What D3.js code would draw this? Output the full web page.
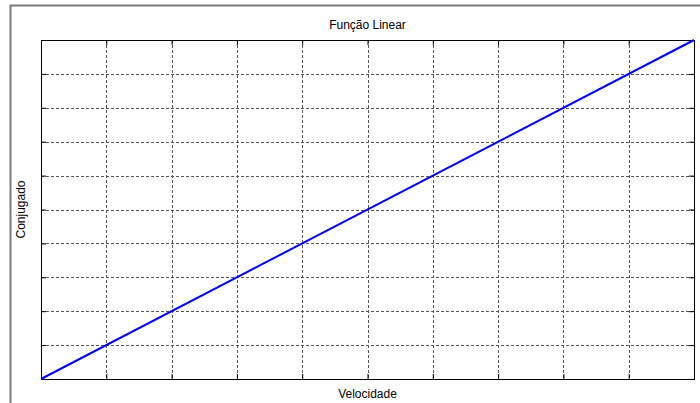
<!DOCTYPE html>
<html>
<head>
<meta charset="utf-8">
<script src="https://d3js.org/d3.v7.min.js"></script>
<style>
  body { margin: 0; background: #fff; }
  text { font-family: "Liberation Sans", Arial, sans-serif; font-size: 12px; fill: #000; }
</style>
</head>
<body>
<div id="chart"></div>
<script>
var velocidade = [0, 10],
    conjugado = [0, 10],
    xTicks = [0, 1, 2, 3, 4, 5, 6, 7, 8, 9, 10],
    yTicks = [0, 1, 2, 3, 4, 5, 6, 7, 8, 9, 10];

var W = 700, H = 403,
    m = {left: 41, top: 40, right: 6, bottom: 24},
    w = W - m.left - m.right,
    h = H - m.top - m.bottom;

var x = d3.scaleLinear().domain([0, 10]).range([0, w]),
    y = d3.scaleLinear().domain([0, 10]).range([h, 0]);

var svg = d3.select("#chart").append("svg")
    .attr("width", W)
    .attr("height", H);

// window frame
svg.append("path")
    .attr("d", "M10.5," + H + " V5.5 H" + W)
    .attr("fill", "none")
    .attr("stroke", "#7a7a7a")
    .attr("stroke-width", 2);

var vis = svg.append("g")
    .attr("transform", "translate(" + m.left + "," + m.top + ")");

// grid
vis.append("g").selectAll("line")
    .data(xTicks.slice(1, -1))
    .enter().append("line")
    .attr("x1", function(d) { return Math.round(x(d)) + 0.5; })
    .attr("x2", function(d) { return Math.round(x(d)) + 0.5; })
    .attr("y1", 0).attr("y2", h)
    .attr("stroke", "#555")
    .attr("stroke-dasharray", "3,2");

vis.append("g").selectAll("line")
    .data(yTicks.slice(1, -1))
    .enter().append("line")
    .attr("y1", function(d) { return Math.round(y(d)) + 0.5; })
    .attr("y2", function(d) { return Math.round(y(d)) + 0.5; })
    .attr("x1", 0).attr("x2", w)
    .attr("stroke", "#555")
    .attr("stroke-dasharray", "3,2");

// axes with inner ticks, no labels
function noLabels(g) {
  g.selectAll("text").remove();
  g.select(".domain").remove();
  g.selectAll("line").attr("stroke", "#000");
}
vis.append("g").attr("transform", "translate(0," + h + ")")
    .call(d3.axisBottom(x).tickValues(xTicks).tickSize(-5)).call(noLabels);
vis.append("g")
    .call(d3.axisTop(x).tickValues(xTicks).tickSize(-5)).call(noLabels);
vis.append("g")
    .call(d3.axisLeft(y).tickValues(yTicks).tickSize(-5)).call(noLabels);
vis.append("g").attr("transform", "translate(" + w + ",0)")
    .call(d3.axisRight(y).tickValues(yTicks).tickSize(-5)).call(noLabels);

// box
vis.append("rect")
    .attr("x", 0.5).attr("y", 0.5)
    .attr("width", w).attr("height", h)
    .attr("fill", "none")
    .attr("stroke", "#000");

// data line
var line = d3.line()
    .x(function(d, i) { return x(velocidade[i]); })
    .y(function(d) { return y(d); });

vis.append("path")
    .datum(conjugado)
    .attr("d", line)
    .attr("fill", "none")
    .attr("stroke", "#0000ff")
    .attr("stroke-width", 2);

// labels
svg.append("text")
    .attr("x", m.left + w / 2).attr("y", 29)
    .attr("text-anchor", "middle")
    .text("Função Linear");

svg.append("text")
    .attr("x", m.left + w / 2).attr("y", 398)
    .attr("text-anchor", "middle")
    .text("Velocidade");

svg.append("text")
    .attr("transform", "translate(25," + (m.top + h / 2) + ") rotate(-90)")
    .attr("text-anchor", "middle")
    .text("Conjugado");
</script>
</body>
</html>
